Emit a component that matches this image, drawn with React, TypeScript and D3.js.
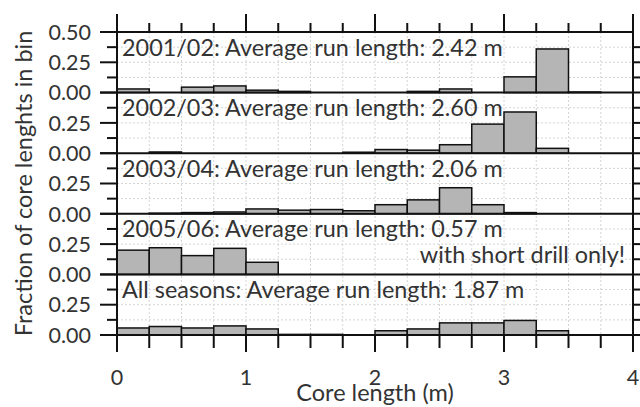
import { useEffect, useRef } from "react";
import * as d3 from "d3";

// bin edges in m (0.25 m bins)
const binEdges = [0, 0.25, 0.5, 0.75, 1, 1.25, 1.5, 1.75, 2, 2.25, 2.5, 2.75, 3, 3.25, 3.5, 3.75, 4];

// fraction of cores in each bin, per season
const season0102 = [0.03, 0, 0.045, 0.055, 0.02, 0.01, 0, 0, 0, 0.01, 0.03, 0, 0.13, 0.36, 0.005, 0];
const season0203 = [0, 0.01, 0, 0, 0, 0, 0, 0.008, 0.03, 0.025, 0.07, 0.24, 0.34, 0.04, 0, 0];
const season0304 = [0, 0.005, 0.01, 0.015, 0.04, 0.03, 0.035, 0.025, 0.075, 0.115, 0.215, 0.075, 0.01, 0, 0, 0];
const season0506 = [0.2, 0.22, 0.155, 0.215, 0.1, 0, 0, 0, 0, 0, 0, 0, 0, 0, 0, 0];
const allSeasons = [0.058, 0.07, 0.058, 0.075, 0.05, 0.005, 0.005, 0, 0.035, 0.05, 0.1, 0.1, 0.12, 0.035, 0, 0];

const panelLabels = [
    "2001/02: Average run length: 2.42 m",
    "2002/03: Average run length: 2.60 m",
    "2003/04: Average run length: 2.06 m",
    "2005/06: Average run length: 0.57 m",
    "All seasons: Average run length: 1.87 m",
];
const panelNotes = ["", "", "", "with short drill only!", ""];

const xTicks = [0, 1, 2, 3, 4];
const xMinorTicks = [0.25, 0.5, 0.75, 1.25, 1.5, 1.75, 2.25, 2.5, 2.75, 3.25, 3.5, 3.75];
const yTickLabels = ["0.00", "0.25", "0.50"];
const yTicks = [0, 0.25, 0.5];
const yMinorTicks = [0.125, 0.375];

const FONT = "Lato, 'Open Sans', sans-serif";

const App = () => {
    const ref = useRef<HTMLDivElement>(null);

    useEffect(() => {
        const width = 640;
        const height = 407;
        const left = 117;
        const right = 633;
        const top = 32;
        const bottom = 335;

        const series = [season0102, season0203, season0304, season0506, allSeasons];
        const panelH = (bottom - top) / series.length;

        const x = d3.scaleLinear([0, 4], [left, right]);

        const svg = d3
            .create("svg")
            .attr("width", width)
            .attr("height", height)
            .attr("viewBox", [0, 0, width, height])
            .style("position", "absolute")
            .style("left", "0px")
            .style("top", "0px")
            .style("background", "#fff");

        // vertical dotted grid
        svg.append("g")
            .selectAll("line")
            .data(binEdges.slice(1, -1))
            .join("line")
            .attr("x1", (d) => x(d))
            .attr("x2", (d) => x(d))
            .attr("y1", top)
            .attr("y2", bottom)
            .attr("stroke", "#d4d4d4")
            .attr("stroke-width", 1)
            .attr("stroke-dasharray", "2 2");

        series.forEach((vals, i) => {
            const y = d3.scaleLinear([0, 0.5], [top + panelH * (i + 1), top + panelH * i]);
            const g = svg.append("g");

            // horizontal dotted grid
            g.selectAll("line.grid")
                .data([0.125, 0.25, 0.375])
                .join("line")
                .attr("class", "grid")
                .attr("x1", left)
                .attr("x2", right)
                .attr("y1", (d) => y(d))
                .attr("y2", (d) => y(d))
                .attr("stroke", "#d4d4d4")
                .attr("stroke-width", 1)
                .attr("stroke-dasharray", "2 2");

            // bars
            g.selectAll("rect")
                .data(vals.map((v, j) => ({ v, x0: binEdges[j], x1: binEdges[j + 1] })).filter((d) => d.v > 0))
                .join("rect")
                .attr("x", (d) => x(d.x0))
                .attr("width", (d) => x(d.x1) - x(d.x0))
                .attr("y", (d) => y(d.v))
                .attr("height", (d) => y(0) - y(d.v))
                .attr("fill", "#b5b5b5")
                .attr("stroke", "#111")
                .attr("stroke-width", 1.5);

            // left ticks
            const ticks = i === 0 ? yTicks : yTicks.slice(0, 2);
            g.selectAll("line.maj")
                .data(ticks)
                .join("line")
                .attr("class", "maj")
                .attr("x1", left - 17)
                .attr("x2", left)
                .attr("y1", (d) => y(d))
                .attr("y2", (d) => y(d))
                .attr("stroke", "#111")
                .attr("stroke-width", 2);
            g.selectAll("line.min")
                .data(yMinorTicks)
                .join("line")
                .attr("class", "min")
                .attr("x1", left - 10)
                .attr("x2", left)
                .attr("y1", (d) => y(d))
                .attr("y2", (d) => y(d))
                .attr("stroke", "#111")
                .attr("stroke-width", 2);
            // right ticks
            g.selectAll("line.rt")
                .data([0.125, 0.25, 0.375])
                .join("line")
                .attr("class", "rt")
                .attr("x1", right)
                .attr("x2", right + 10)
                .attr("y1", (d) => y(d))
                .attr("y2", (d) => y(d))
                .attr("stroke", "#111")
                .attr("stroke-width", 2);

            g.selectAll("text.tl")
                .data(ticks)
                .join("text")
                .attr("class", "tl")
                .attr("x", left - 26)
                .attr("y", (d) => y(d))
                .attr("dy", "0.36em")
                .attr("text-anchor", "end")
                .attr("font-family", FONT)
                .attr("font-size", 21.5)
                .attr("fill", "#333")
                .text((d) => yTickLabels[yTicks.indexOf(d)]);

            // panel annotation
            g.append("text")
                .attr("x", left + 5)
                .attr("y", y(0.5) + 23.5)
                .attr("font-family", FONT)
                .attr("font-size", 23.4)
                .attr("fill", "#333")
                .text(panelLabels[i]);
            if (panelNotes[i]) {
                g.append("text")
                    .attr("x", right - 8)
                    .attr("y", y(0.5) + 49)
                    .attr("text-anchor", "end")
                    .attr("font-family", FONT)
                    .attr("font-size", 23.4)
                    .attr("fill", "#333")
                    .text(panelNotes[i]);
            }

            // panel separator
            g.append("line")
                .attr("x1", left - 17)
                .attr("x2", right + 10)
                .attr("y1", y(0))
                .attr("y2", y(0))
                .attr("stroke", "#111")
                .attr("stroke-width", 2);
        });

        // frame
        svg.append("rect")
            .attr("x", left)
            .attr("y", top)
            .attr("width", right - left)
            .attr("height", bottom - top)
            .attr("fill", "none")
            .attr("stroke", "#111")
            .attr("stroke-width", 2);

        // top ticks
        svg.append("g")
            .selectAll("line")
            .data(xTicks)
            .join("line")
            .attr("x1", (d) => x(d))
            .attr("x2", (d) => x(d))
            .attr("y1", top - 18)
            .attr("y2", top)
            .attr("stroke", "#111")
            .attr("stroke-width", 2);
        svg.append("g")
            .selectAll("line")
            .data(xMinorTicks)
            .join("line")
            .attr("x1", (d) => x(d))
            .attr("x2", (d) => x(d))
            .attr("y1", top - 9)
            .attr("y2", top)
            .attr("stroke", "#111")
            .attr("stroke-width", 2);

        // bottom ticks
        svg.append("g")
            .selectAll("line")
            .data(xTicks)
            .join("line")
            .attr("x1", (d) => x(d))
            .attr("x2", (d) => x(d))
            .attr("y1", bottom)
            .attr("y2", bottom + 17)
            .attr("stroke", "#111")
            .attr("stroke-width", 2);
        svg.append("g")
            .selectAll("line")
            .data(xMinorTicks)
            .join("line")
            .attr("x1", (d) => x(d))
            .attr("x2", (d) => x(d))
            .attr("y1", bottom)
            .attr("y2", bottom + 13)
            .attr("stroke", "#111")
            .attr("stroke-width", 2);

        svg.append("g")
            .selectAll("text")
            .data(xTicks)
            .join("text")
            .attr("x", (d) => x(d))
            .attr("y", 385)
            .attr("text-anchor", "middle")
            .attr("font-family", FONT)
            .attr("font-size", 21.5)
            .attr("fill", "#333")
            .text((d) => String(d));

        // axis titles
        svg.append("text")
            .attr("x", x(2))
            .attr("y", 401)
            .attr("text-anchor", "middle")
            .attr("font-family", FONT)
            .attr("font-size", 23.5)
            .attr("fill", "#333")
            .text("Core length (m)");

        svg.append("text")
            .attr("transform", `translate(32,${(top + bottom) / 2}) rotate(-90)`)
            .attr("text-anchor", "middle")
            .attr("font-family", FONT)
            .attr("font-size", 23.5)
            .attr("fill", "#333")
            .text("Fraction of core lenghts in bin");

        ref.current!.innerHTML = "";
        ref.current!.appendChild(svg.node()!);
    }, []);

    return <div ref={ref}></div>;
};

export default App;
